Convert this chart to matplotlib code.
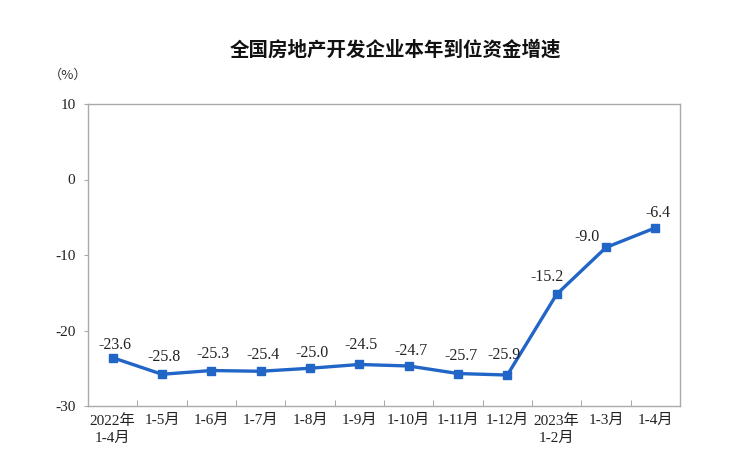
import matplotlib
matplotlib.use("Agg")
import matplotlib.pyplot as plt

categories = ["2022年\n1-4月", "1-5月", "1-6月", "1-7月", "1-8月", "1-9月", "1-10月",
              "1-11月", "1-12月", "2023年\n1-2月", "1-3月", "1-4月"]
values = [-23.6, -25.8, -25.3, -25.4, -25.0, -24.5, -24.7, -25.7, -25.9, -15.2, -9.0, -6.4]
label_offsets = [(2, 13), (2, 17), (2, 17), (2, 16), (2, 15), (2, 19), (2, 15),
                 (3, 18), (-3, 20), (-10, 17), (-19, 10), (3, 15)]
yticks = [10, 0, -10, -20, -30]

FONT = ['Liberation Serif', 'Noto Sans CJK SC']
plt.rcParams['font.family'] = FONT

W, H = 735, 470
fig = plt.figure(figsize=(W / 100, H / 100), dpi=100)
left, right, top, bottom = 88, 680, 104, 406
ax = fig.add_axes([left / W, 1 - bottom / H, (right - left) / W, (bottom - top) / H])

x = list(range(len(values)))
color = "#2165c6"
ax.plot(x, values, color=color, lw=2.4, marker='s', markersize=5.5, zorder=3)
for xi, v, (dx, dy) in zip(x, values, label_offsets):
    ax.annotate(f"{v:.1f}", (xi, v), xytext=(dx, dy), textcoords='offset pixels',
                ha='center', va='center', fontsize=11.5, color='#222222',
                family=['Liberation Serif'])

ax.set_xlim(-0.5, len(values) - 0.5)
ax.set_ylim(-30, 10)
ax.set_yticks(yticks)
ax.set_yticklabels([str(t) for t in yticks], fontsize=11, color='#222222')
ax.set_xticks(x)
ax.set_xticklabels(categories, fontsize=11, color='#222222', linespacing=1.4, va='top')
ax.tick_params(axis='x', length=0, pad=6)
ax.set_xticks([i + 0.5 for i in x[:-1]], minor=True)
ax.tick_params(axis='x', which='minor', direction='in', length=4, color='#999999')
ax.tick_params(axis='y', direction='out', length=3, color='#aaaaaa', pad=6)
for s in ax.spines.values():
    s.set_color('#aaaaaa')
    s.set_linewidth(1.0)

fig.text(395 / W, 1 - 50 / H, "全国房地产开发企业本年到位资金增速", ha='center', va='center',
         fontsize=14, fontweight='bold', family=['Noto Sans CJK SC'], color='#111111')
fig.text(68 / W, 1 - 75 / H, "（%）", ha='center', va='center', fontsize=9.5,
         family=['Noto Sans CJK SC'], color='#333333')

fig.savefig("out.png", dpi=100)
